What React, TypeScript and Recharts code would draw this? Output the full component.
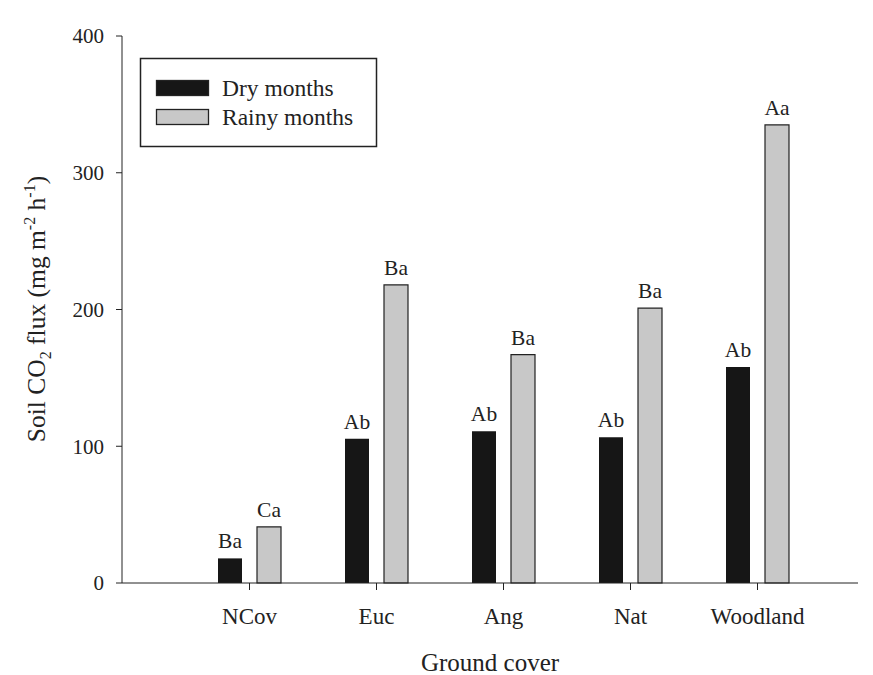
import React from "react";
import { BarChart, Bar, XAxis, YAxis, LabelList } from "recharts";

const categories = ["NCov", "Euc", "Ang", "Nat", "Woodland"];
const dryValues = [18, 105.5, 111, 106.5, 158];
const rainyValues = [41, 218, 167, 201, 335];
const dryLetters = ["Ba", "Ab", "Ab", "Ab", "Ab"];
const rainyLetters = ["Ca", "Ba", "Ba", "Ba", "Aa"];
const yTicks = [0, 100, 200, 300, 400];
const legendItems = [
  { label: "Dry months", fill: "#161616" },
  { label: "Rainy months", fill: "#c8c8c8" },
];

const data = categories.map((c, i) => ({
  name: c,
  dry: dryValues[i],
  rainy: rainyValues[i],
  dryL: dryLetters[i],
  rainyL: rainyLetters[i],
}));

const FONT = "'Liberation Serif', 'Times New Roman', serif";
const INK = "#222";

const LegendOverlay = () => (
  <svg
    width={873}
    height={675}
    style={{ position: "absolute", left: 0, top: 0, pointerEvents: "none" }}
  >
    <rect x={140.5} y={58.5} width={236} height={88} fill="#fff" stroke={INK} strokeWidth={1.5} />
    {legendItems.map((it, i) => (
      <g key={i}>
        <rect
          x={156.5}
          y={80.5 + i * 29}
          width={52}
          height={15}
          fill={it.fill}
          stroke={INK}
          strokeWidth={1.3}
        />
        <text x={222} y={96 + i * 29} fontFamily={FONT} fontSize={23.5} fill={INK}>
          {it.label}
        </text>
      </g>
    ))}
  </svg>
);

const YLabel = () => (
  <text
    x={45}
    y={309}
    transform="rotate(-90, 45, 309)"
    textAnchor="middle"
    fontFamily={FONT}
    fontSize={25.5}
    fill={INK}
  >
    <tspan>Soil CO</tspan>
    <tspan fontSize={16} dy={6}>2</tspan>
    <tspan dy={-6}> flux (mg m</tspan>
    <tspan fontSize={16} dy={-10}>-2</tspan>
    <tspan dy={10}> h</tspan>
    <tspan fontSize={16} dy={-10}>-1</tspan>
    <tspan dy={10}>)</tspan>
  </text>
);

export default function App() {
  return (
    <div style={{ position: "absolute", left: 0, top: 0, width: 873, height: 675, background: "#fff" }}>
      <BarChart
        width={873}
        height={675}
        data={data}
        margin={{ top: 36, right: 15, bottom: 0, left: 0 }}
        barSize={24}
        barGap={15}
      >
        <XAxis
          dataKey="name"
          padding={{ left: 64, right: 37 }}
          height={92}
          stroke={INK}
          tickSize={7}
          tick={{ fontFamily: FONT, fontSize: 23, fill: INK }}
          tickMargin={18}
          label={{
            value: "Ground cover",
            position: "insideBottom",
            offset: 4,
            style: { fontFamily: FONT, fontSize: 25, fill: INK },
          }}
        />
        <YAxis
          width={122}
          domain={[0, 400]}
          ticks={yTicks}
          stroke={INK}
          tickSize={6}
          tickMargin={12}
          tick={{ fontFamily: FONT, fontSize: 21, fill: INK }}
          label={<YLabel />}
        />
        <Bar dataKey="dry" fill="#161616" isAnimationActive={false}>
          <LabelList
            dataKey="dryL"
            position="top"
            offset={10}
            style={{ fontFamily: FONT, fontSize: 21.5, fill: INK }}
          />
        </Bar>
        <Bar dataKey="rainy" fill="#c8c8c8" stroke={INK} strokeWidth={1.2} isAnimationActive={false}>
          <LabelList
            dataKey="rainyL"
            position="top"
            offset={10}
            style={{ fontFamily: FONT, fontSize: 21.5, fill: INK }}
          />
        </Bar>
      </BarChart>
      <LegendOverlay />
    </div>
  );
}
